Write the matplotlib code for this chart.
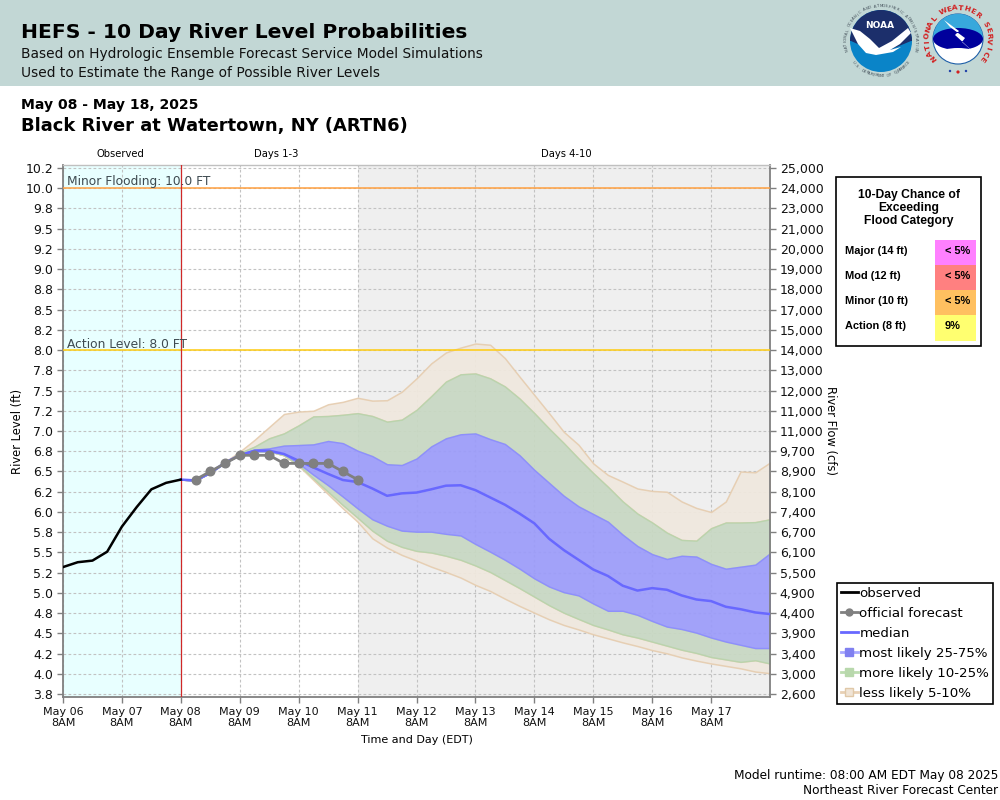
import numpy as np
import pandas as pd
import matplotlib
matplotlib.use("Agg")
import matplotlib.pyplot as plt
from matplotlib.lines import Line2D
from matplotlib.patches import Rectangle, Circle, Wedge, Polygon, Ellipse

# ---------- data ----------
observed = [5.32, 5.38, 5.40, 5.51, 5.82, 6.06, 6.28, 6.36, 6.40]
official = [6.40, 6.50, 6.60, 6.70, 6.70, 6.70, 6.60, 6.60, 6.60, 6.60, 6.50, 6.40]
median = [6.40, 6.39, 6.485, 6.61, 6.70, 6.757, 6.757, 6.716, 6.633, 6.55, 6.47, 6.395, 6.37,
          6.29, 6.20, 6.23, 6.24, 6.28, 6.325, 6.33, 6.27, 6.18, 6.09, 5.98, 5.86, 5.67, 5.53,
          5.41, 5.29, 5.21, 5.09, 5.03, 5.06, 5.04, 4.97, 4.92, 4.90, 4.83, 4.80, 4.76, 4.74]
p75 = [6.40, 6.39, 6.485, 6.61, 6.716, 6.77, 6.786, 6.82, 6.827, 6.835, 6.877, 6.85, 6.757,
       6.69, 6.59, 6.58, 6.66, 6.81, 6.91, 6.96, 6.97, 6.90, 6.84, 6.70, 6.52, 6.36, 6.20,
       6.07, 5.975, 5.88, 5.72, 5.58, 5.48, 5.42, 5.46, 5.45, 5.36, 5.30, 5.325, 5.35, 5.49]
p25 = [6.40, 6.39, 6.485, 6.61, 6.70, 6.75, 6.75, 6.716, 6.60, 6.46, 6.33, 6.19, 6.045,
       5.91, 5.83, 5.77, 5.757, 5.757, 5.73, 5.71, 5.605, 5.51, 5.41, 5.30, 5.18, 5.08, 5.01,
       4.97, 4.87, 4.78, 4.78, 4.73, 4.654, 4.585, 4.555, 4.51, 4.45, 4.40, 4.36, 4.32, 4.32]
p90 = [6.40, 6.39, 6.485, 6.61, 6.73, 6.807, 6.91, 6.97, 7.07, 7.18, 7.185, 7.20, 7.22,
       7.185, 7.115, 7.14, 7.26, 7.43, 7.61, 7.70, 7.71, 7.65, 7.55, 7.40, 7.22, 7.03, 6.85,
       6.66, 6.48, 6.31, 6.13, 5.98, 5.87, 5.745, 5.655, 5.646, 5.80, 5.87, 5.87, 5.875, 5.91]
p10 = [6.40, 6.39, 6.485, 6.61, 6.70, 6.75, 6.75, 6.70, 6.58, 6.415, 6.25, 6.086, 5.93,
       5.77, 5.645, 5.57, 5.52, 5.50, 5.46, 5.41, 5.34, 5.26, 5.16, 5.06, 4.955, 4.85, 4.757,
       4.68, 4.605, 4.55, 4.49, 4.45, 4.40, 4.35, 4.30, 4.26, 4.21, 4.18, 4.15, 4.17, 4.13]
p95 = [6.40, 6.39, 6.485, 6.62, 6.745, 6.89, 7.05, 7.21, 7.24, 7.25, 7.33, 7.36, 7.41,
       7.375, 7.38, 7.485, 7.65, 7.835, 7.97, 8.03, 8.08, 8.065, 7.90, 7.67, 7.445, 7.22, 6.99,
       6.83, 6.60, 6.457, 6.375, 6.29, 6.26, 6.25, 6.13, 6.05, 6.00, 6.13, 6.50, 6.49, 6.61]
p05 = [6.40, 6.39, 6.485, 6.61, 6.70, 6.75, 6.75, 6.70, 6.57, 6.395, 6.22, 6.045, 5.88,
       5.675, 5.56, 5.47, 5.40, 5.325, 5.26, 5.19, 5.10, 5.025, 4.93, 4.84, 4.757, 4.675, 4.605,
       4.55, 4.49, 4.44, 4.39, 4.345, 4.295, 4.255, 4.205, 4.165, 4.13, 4.10, 4.07, 4.03, 4.01]

left_ticks = [10.25, 10.0, 9.75, 9.5, 9.25, 9.0, 8.75, 8.5, 8.25, 8.0, 7.75, 7.5, 7.25, 7.0,
              6.75, 6.5, 6.25, 6.0, 5.75, 5.5, 5.25, 5.0, 4.75, 4.5, 4.25, 4.0, 3.75]
left_labels = ["10.2", "10.0", "9.8", "9.5", "9.2", "9.0", "8.8", "8.5", "8.2", "8.0", "7.8", "7.5",
               "7.2", "7.0", "6.8", "6.5", "6.2", "6.0", "5.8", "5.5", "5.2", "5.0", "4.8", "4.5",
               "4.2", "4.0", "3.8"]
right_labels = ["25,000", "24,000", "23,000", "21,000", "20,000", "19,000", "18,000", "17,000",
                "15,000", "14,000", "13,000", "12,000", "11,000", "11,000", "9,700", "8,900",
                "8,100", "7,400", "6,700", "6,100", "5,500", "4,900", "4,400", "3,900", "3,400",
                "3,000", "2,600"]
day_labels = ["May 06\n8AM", "May 07\n8AM", "May 08\n8AM", "May 09\n8AM", "May 10\n8AM", "May 11\n8AM",
              "May 12\n8AM", "May 13\n8AM", "May 14\n8AM", "May 15\n8AM", "May 16\n8AM", "May 17\n8AM"]
flood_categories = ["Major (14 ft)", "Mod (12 ft)", "Minor (10 ft)", "Action (8 ft)"]
flood_chances = ["< 5%", "< 5%", "< 5%", "9%"]
flood_colors = ["#FF80FF", "#FF8080", "#FFC060", "#FFFF70"]

obs_t = pd.date_range("2025-05-06 08:00", periods=len(observed), freq="6h")
off_t = pd.date_range("2025-05-08 14:00", periods=len(official), freq="6h")
fc_t = pd.date_range("2025-05-08 08:00", periods=len(median), freq="6h")
day_t = pd.date_range("2025-05-06 08:00", periods=len(day_labels), freq="1D")
T0, T2, T5, T12 = [pd.Timestamp(f"2025-05-{d} 08:00") for d in ("06", "08", "11", "18")]

plt.rcParams["font.family"] = "DejaVu Sans"
fig = plt.figure(figsize=(10, 8), dpi=100, facecolor="white")

# ---------- chart ----------
W, H = 1000, 800
ax = fig.add_axes([63 / W, 1 - 697 / H, (770 - 63) / W, (697 - 165) / H], zorder=2)
ax.set_xlim(T0, T12)
ax.set_ylim(3.716, 10.284)
ax.axvspan(T0, T2, color="#E8FFFF", lw=0, zorder=0)
ax.axvspan(T5, T12, color="#EFEFEF", lw=0, zorder=0)
ax.set_xticks(day_t)
ax.set_xticklabels(day_labels, fontsize=8, linespacing=1.15)
ax.set_yticks(left_ticks)
ax.set_yticklabels(left_labels, fontsize=9.0)
ax.grid(True, color="#C2C2C2", ls=(0, (2.5, 2)), lw=0.8, zorder=1)
ax.set_axisbelow(True)
ax.tick_params(axis="both", color="#808080", length=4, width=1, pad=3, labelcolor="#111111")

TAN_F, GRN_F, BLU_F = "#F0E8DE", "#C8D8C3", "#9C9CFA"
TAN_E, GRN_E, BLU_E = "#E6CDB0", "#B8D4AC", "#8C8CFF"
ax.fill_between(fc_t, p90, p95, fc=TAN_F, ec=TAN_E, lw=1.1, alpha=0.93, zorder=2)
ax.fill_between(fc_t, p05, p10, fc=TAN_F, ec=TAN_E, lw=1.1, alpha=0.93, zorder=2)
ax.fill_between(fc_t, p75, p90, fc=GRN_F, ec=GRN_E, lw=1.0, alpha=0.93, zorder=2.1)
ax.fill_between(fc_t, p10, p25, fc=GRN_F, ec=GRN_E, lw=1.0, alpha=0.93, zorder=2.1)
ax.fill_between(fc_t, p25, p75, fc=BLU_F, ec=BLU_E, lw=1.0, alpha=0.93, zorder=2.2)

ax.axhline(10.0, color="#FFA040", lw=1.1, zorder=3)
ax.axhline(8.0, color="#FFCC10", lw=1.1, zorder=3)
ax.axvline(T2, color="#D02828", lw=0.9, zorder=3)
ax.plot(fc_t, median, color="#6868FF", lw=1.8, zorder=4)
ax.plot(off_t, official, color="#808080", lw=2, marker="o", ms=6.2, zorder=5)
ax.plot(obs_t, observed, color="black", lw=1.8, zorder=6)

for side, col, w in (("left", "#808080", 1.3), ("right", "#808080", 1.3),
                     ("bottom", "#808080", 1.3), ("top", "#C0C0C0", 1.0)):
    ax.spines[side].set_color(col)
    ax.spines[side].set_linewidth(w)

ax2 = ax.twinx()
ax2.set_ylim(ax.get_ylim())
ax2.set_yticks(left_ticks)
ax2.set_yticklabels(right_labels, fontsize=9.0)
ax2.tick_params(axis="y", color="#808080", length=4, width=1, pad=3, labelcolor="#111111")
for s in ax2.spines.values():
    s.set_visible(False)

# ---------- overlay in pixel coordinates ----------
ov = fig.add_axes([0, 0, 1, 1], zorder=1)
ov.set_xlim(0, W)
ov.set_ylim(H, 0)
ov.axis("off")
ov.add_patch(Rectangle((0, 0), W, 86, fc="#C2D7D5", ec="none"))

top = fig.add_axes([0, 0, 1, 1], zorder=3)
top.set_xlim(0, W)
top.set_ylim(H, 0)
top.axis("off")
top.patch.set_alpha(0)


def T(x, y, s, size, ha="left", va="center", **kw):
    return top.text(x, y, s, fontsize=size, ha=ha, va=va, **kw)


T(21, 33, "HEFS - 10 Day River Level Probabilities", 14.6, weight="bold", color="black")
T(21, 54, "Based on Hydrologic Ensemble Forecast Service Model Simulations", 9.9, color="#111111")
T(21, 73, "Used to Estimate the Range of Possible River Levels", 9.9, color="#111111")
T(21, 105, "May 08 - May 18, 2025", 10.1, weight="bold")
T(21, 126, "Black River at Watertown, NY (ARTN6)", 12.9, weight="bold")
T(120, 154, "Observed", 7.2, ha="center")
T(276, 154, "Days 1-3", 7.2, ha="center")
T(566, 154, "Days 4-10", 7.2, ha="center")
T(67, 181, "Minor Flooding: 10.0 FT", 8.85, color="#3E4A50")
T(67, 344, "Action Level: 8.0 FT", 8.85, color="#3E4A50")
T(18, 431, "River Level (ft)", 8.3, ha="center", rotation=90)
T(831, 431, "River Flow (cfs)", 8.3, ha="center", rotation=-90)
T(417, 740, "Time and Day (EDT)", 8, ha="center")
T(998, 775, "Model runtime: 08:00 AM EDT May 08 2025", 8.75, ha="right")
T(998, 791, "Northeast River Forecast Center", 8.75, ha="right")

# flood category table
top.add_patch(Rectangle((836, 176.5), 144.5, 169, fc="white", ec="black", lw=1.2))
tf = "Liberation Sans"
for y, s in zip((195, 208, 221), ("10-Day Chance of", "Exceeding", "Flood Category")):
    T(909, y, s, 8.7, ha="center", family=tf, weight="bold")
edges = [240, 265, 290, 315, 341]
for i, (cat, ch, col) in enumerate(zip(flood_categories, flood_chances, flood_colors)):
    top.add_patch(Rectangle((935, edges[i]), 41, edges[i + 1] - edges[i], fc=col, ec="none"))
    ym = 251 + 25 * i
    T(845, ym, cat, 7.9, family=tf, weight="bold")
    T(945, ym, ch, 7.9, family=tf, weight="bold")

# legend
handles = [
    Line2D([], [], color="black", lw=2),
    Line2D([], [], color="#808080", lw=2, marker="o", ms=5),
    Line2D([], [], color="#6868FF", lw=2),
    Line2D([], [], color="#A8A8FF", lw=2, marker="s", ms=6, mfc="#8080F0", mec="#8080F0"),
    Line2D([], [], color="#BCDCB0", lw=2, marker="s", ms=6, mfc="#B8D8AC", mec="#B8D8AC"),
    Line2D([], [], color="#E8D0B4", lw=2, marker="s", ms=6, mfc="#F0E4D6", mec="#E0C8A8"),
]
labels = ["observed", "official forecast", "median", "most likely 25-75%", "more likely 10-25%", "less likely 5-10%"]
leg = fig.legend(handles, labels, loc="upper left", bbox_to_anchor=(837 / W, 1 - 583 / H),
                 fontsize=9.6, frameon=True, fancybox=False, edgecolor="black", framealpha=1,
                 borderpad=0.3, borderaxespad=0, labelspacing=0.52, handlelength=1.25,
                 handletextpad=0.12)
leg.get_frame().set_linewidth(1.2)
leg.set_zorder(4)


# ---------- logos ----------
def ring_text(cx, cy, r, s, a0, a1, size, color, weight="normal", bottom=False):
    angs = np.linspace(a0, a1, len(s))
    for ch, a in zip(s, angs):
        x = cx + r * np.cos(np.radians(a))
        y = cy - r * np.sin(np.radians(a))
        rot = a - 90 if not bottom else a + 90
        top.text(x, y, ch, fontsize=size, color=color, weight=weight, ha="center", va="center",
                 rotation=rot, rotation_mode="anchor")


# NOAA
ncx, ncy = 881, 41
top.add_patch(Circle((ncx, ncy), 31, fc="#0A84C8", ec="none"))
top.add_patch(Wedge((ncx, ncy), 31, 180, 360, fc="#1C2F6B", ec="none"))
top.add_patch(Polygon([(851, 41), (911, 41), (880, 54)], fc="#1C2F6B", ec="none"))
top.add_patch(Polygon([(850, 28), (860, 31), (870, 39), (879, 48), (892, 41), (908, 28), (911, 33),
                       (900, 44), (890, 50), (901, 47), (893, 52), (876, 55), (866, 53), (858, 44)],
                      fc="white", ec="none"))
T(ncx - 1, 25, "NOAA", 6.5, ha="center", color="white", weight="bold")
ring_text(ncx, ncy, 35, "NATIONAL OCEANIC AND ATMOSPHERIC ADMINISTRATION", 195, -15, 2.8, "#44505A")
ring_text(ncx, ncy, 35, "U.S. DEPARTMENT OF COMMERCE", 218, 322, 2.8, "#44505A", bottom=True)

# NWS
wcx, wcy = 958, 39
top.add_patch(Circle((wcx, wcy), 25, fc="white", ec="#1E5FA8", lw=0.8))
top.add_patch(Wedge((wcx, wcy), 25, 180, 360, fc="#38A8DC", ec="none"))
top.add_patch(Wedge((wcx, wcy), 25, 210, 330, fc="#38A8DC", ec="none"))
top.add_patch(Ellipse((wcx, wcy), 50, 22, fc="#00009C", ec="none"))
top.add_patch(Ellipse((wcx, wcy + 14), 36, 10, fc="white", ec="none"))
top.add_patch(Polygon([(944, 20), (959, 31), (955, 35), (979, 57), (962, 42), (965, 38), (950, 27)],
                      fc="white", ec="none"))
ring_text(wcx, wcy, 31, "NATIONAL WEATHER SERVICE", 218, -38, 5.4, "#D22020", weight="bold")
top.add_patch(Circle((950, 71), 1.2, fc="#1E3FA8", ec="none"))
top.add_patch(Circle((958, 72), 1.6, fc="#D22020", ec="none"))
top.add_patch(Circle((966, 71), 1.2, fc="#1E3FA8", ec="none"))

fig.savefig("out.png", dpi=100)
